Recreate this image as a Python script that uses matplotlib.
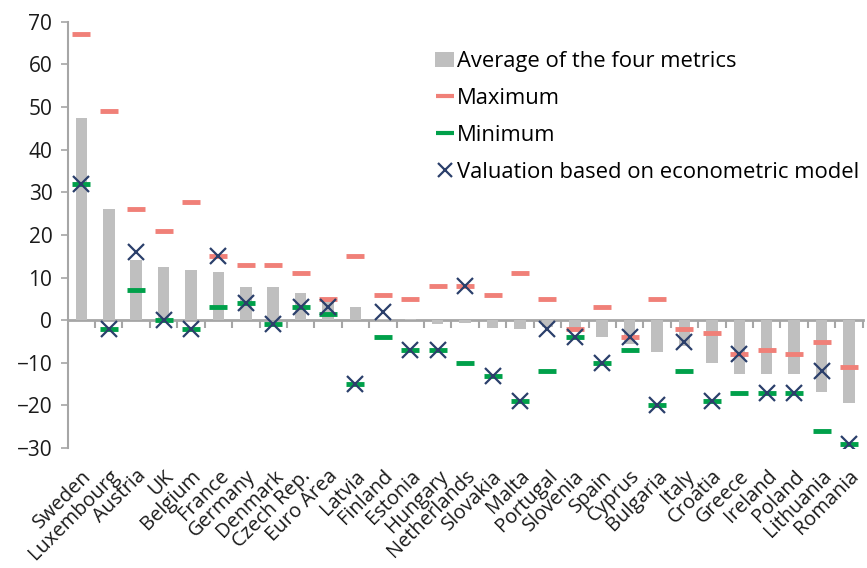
import matplotlib
matplotlib.use("Agg")
import matplotlib.pyplot as plt
from matplotlib.lines import Line2D
from matplotlib.patches import Patch
import numpy as np

plt.rcParams['font.family'] = ['Open Sans', 'DejaVu Sans']

# --- Data ---
countries = ["Sweden", "Luxembourg", "Austria", "UK", "Belgium", "France", "Germany",
             "Denmark", "Czech Rep.", "Euro Area", "Latvia", "Finland", "Estonia",
             "Hungary", "Netherlands", "Slovakia", "Malta", "Portugal", "Slovenia",
             "Spain", "Cyprus", "Bulgaria", "Italy", "Croatia", "Greece", "Ireland",
             "Poland", "Lithuania", "Romania"]
average = [47.3, 26, 14, 12.4, 11.8, 11.2, 7.8, 7.7, 6.3, 4.5, 3, 0.2, 0.3,
           -0.8, -0.6, -1.9, -2, -1.5, -2.5, -4, -5.5, -7.5, -6, -10, -12.7,
           -12.7, -12.7, -16.8, -19.4]
maximum = [67, 49, 26, 21, 27.7, 15, 13, 13, 11, 5, 15, 6, 5, 8, 8, 6, 11, 5,
           -2, 3, -4, 5, -2, -3, -8, -7, -8, -5, -11]
minimum = [32, -2, 7, 0, -2, 3, 4, -1, 3, 1.5, -15, -4, -7, -7, -10, -13, -19,
           -12, -4, -10, -7, -20, -12, -19, -17, -17, -17, -26, -29]
econometric = [32, -2, 16, 0, -2, 15, 4, -1, 3, 3, -15, 2, -7, -7, 8, -13, -19,
               -2, -4, -10, -4, -20, -5, -19, -8, -17, -17, -12, -29]

c_bar = "#BFBFBF"
c_max = "#F08078"
c_min = "#00A04A"
c_x = "#2B3F6B"
c_axis = "#A6A6A6"

x = np.arange(len(countries))

fig = plt.figure(figsize=(8.67, 5.68), dpi=100)
ax = fig.add_axes([0.078, 0.211, 0.917, 0.751])

ax.bar(x, average, width=0.42, color=c_bar, zorder=1)
ax.plot(x, maximum, ls="none", marker="_", ms=13, mew=3.5, color=c_max, zorder=3)
ax.plot(x, minimum, ls="none", marker="_", ms=13, mew=3.5, color=c_min, zorder=3)
ax.plot(x, econometric, ls="none", marker="x", ms=11, mew=1.6, color=c_x, zorder=4)

ax.set_xlim(-0.5, len(countries) - 0.5)
ax.set_ylim(-30, 70)
ax.set_yticks(np.arange(-30, 71, 10))
ax.tick_params(axis="y", direction="out", length=5, width=1.2, color=c_axis,
               labelsize=15, pad=6, labelcolor="#1A1A1A")

# country labels under the plot, no tick marks
ax.set_xticks(x)
ax.set_xticklabels(countries, rotation=45, ha="right", rotation_mode="anchor",
                   fontsize=14.4, color="#1A1A1A")
ax.tick_params(axis="x", length=0, pad=13)

for s in ["top", "right", "bottom"]:
    ax.spines[s].set_visible(False)
ax.spines["left"].set_color(c_axis)
ax.spines["left"].set_linewidth(1.5)

# zero line with category-boundary ticks
zero = ax.secondary_xaxis(0.3)
zero.set_xticks(x[:-1] + 0.5)
zero.set_xticks([len(countries) - 0.5], minor=True)
zero.tick_params(axis="x", which="both", direction="out", length=6, width=1.5,
                 color=c_axis, labelbottom=False)
zero.spines["bottom"].set_color(c_axis)
zero.spines["bottom"].set_linewidth(2)
zero.set_xticklabels([])

handles = [
    Patch(facecolor=c_bar, edgecolor="none"),
    Line2D([], [], ls="none", marker="_", ms=13, mew=3, color=c_max),
    Line2D([], [], ls="none", marker="_", ms=13, mew=3, color=c_min),
    Line2D([], [], ls="none", marker="x", ms=10, mew=1.6, color=c_x),
]
labels = ["Average of the four metrics", "Maximum", "Minimum",
          "Valuation based on econometric model"]
fig.legend(handles, labels, loc="upper left", bbox_to_anchor=(0.502, 0.91),
           frameon=False, fontsize=15.8, handlelength=0.85, handletextpad=0.15,
           labelspacing=0.72, borderpad=0, borderaxespad=0)

fig.savefig("out.png", dpi=100)
